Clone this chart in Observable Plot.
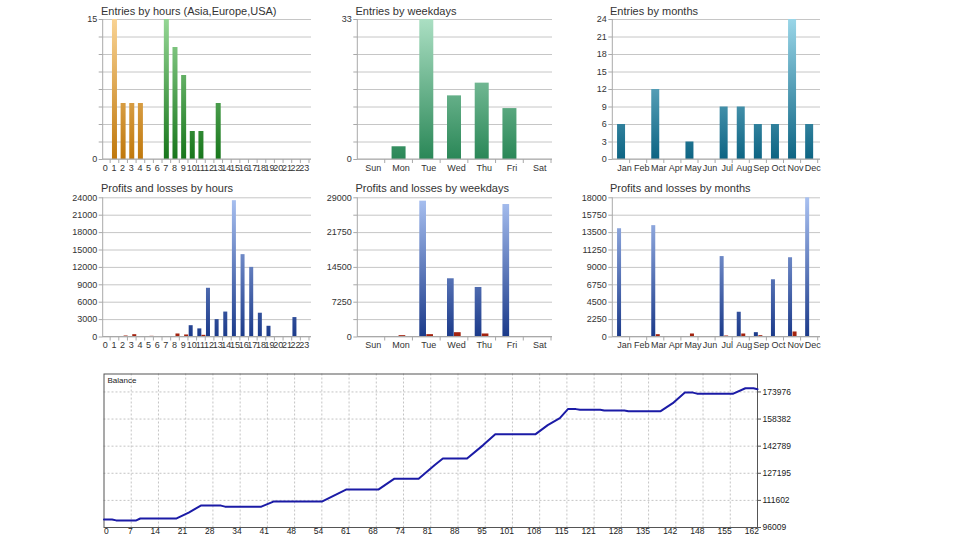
<!DOCTYPE html>
<html><head><meta charset="utf-8">
<script src="https://cdn.jsdelivr.net/npm/d3@7"></script>
<script src="https://cdn.jsdelivr.net/npm/@observablehq/plot@0.6"></script>
<style>
body{margin:0;background:#fff;}
#root{position:relative;width:960px;height:540px;overflow:hidden;font-family:"Liberation Sans",Arial,sans-serif;background:#fff;}
.panel{position:absolute;}
.title{position:absolute;font-size:11px;color:#333;white-space:nowrap;line-height:14px;}
</style></head><body><div id="root"></div>
<script>
// ---------- data ----------
const hourLabels = ["0","1","2","3","4","5","6","7","8","9","10","11","12","13","14","15","16","17","18","19","20","21","22","23"];
const hourSessions = ["Asia","Asia","Asia","Asia","Asia","Asia","Asia","Europe","Europe","Europe","Europe","Europe","Europe","Europe","Europe","USA","USA","USA","USA","USA","USA","USA","USA","USA"];
const hourEntries = [0,15,6,6,6,0,0,15,12,9,3,3,0,6,0,0,0,0,0,0,0,0,0,0];
const hourProfits = [0,0,0,0,0,0,0,0,0,0,1950,1400,8400,3000,4300,23500,14200,12000,4100,1850,0,0,3350,0];
const hourLosses  = [0,0,170,400,0,115,0,60,520,350,0,290,0,0,0,0,0,0,0,0,0,0,0,0];

const weekdays = ["Sun","Mon","Tue","Wed","Thu","Fri","Sat"];
const weekdayEntries = [0,3,33,15,18,12,0];
const weekdayProfits = [0,0,28300,12130,10320,27600,0];
const weekdayLosses  = [0,280,490,900,630,0,0];

const months = ["Jan","Feb","Mar","Apr","May","Jun","Jul","Aug","Sep","Oct","Nov","Dec"];
const monthEntries = [6,0,12,0,3,0,9,9,6,6,24,6];
const monthProfits = [14000,0,14400,0,0,0,10400,3200,560,7400,10250,18000];
const monthLosses  = [0,0,300,0,390,0,130,390,170,0,650,0];

const entriesHoursMax = 15,  entriesHoursLabels = [0,15];
const entriesWeekMax = 33,   entriesWeekLabels = [0,33];
const entriesMonthMax = 24,  entriesMonthLabels = [0,3,6,9,12,15,18,21,24];
const plHoursMax = 24000,    plHoursLabels = [0,3000,6000,9000,12000,15000,18000,21000,24000];
const plWeekMax = 29000,     plWeekLabels = [0,7250,14500,21750,29000];
const plMonthMax = 18000,    plMonthLabels = [0,2250,4500,6750,9000,11250,13500,15750,18000];

const balanceTrades = [0,2,3,8,9,18,21,24,29,30,39,42,54,60,68,72,78,82,84,90,94,97,107,110,113,115,117,118,123,124,129,130,138,141,144,146,147,156,159,161,162];
const balanceValues = [100600,100600,100100,100100,101200,101200,104600,108600,108600,108000,108000,110900,110900,117800,117800,124100,124100,132000,135700,135700,143400,149700,149700,154900,158900,164100,164100,163700,163700,163300,163300,162900,162900,167500,173600,173600,173000,173000,176100,176100,175500];
const balanceYTicks = [96009,111602,127195,142789,158382,173976];
const balanceXLabels = ["0","7","14","21","28","34","41","48","54","61","68","74","81","88","95","101","108","115","121","128","135","142","148","155","162"];
const balanceXMax = 162;

// ---------- tables ----------
const hourTable = hourLabels.map((h,i)=>({k:h, session:hourSessions[i], entries:hourEntries[i], profit:hourProfits[i], loss:hourLosses[i]}));
const weekTable = weekdays.map((d,i)=>({k:d, entries:weekdayEntries[i], profit:weekdayProfits[i], loss:weekdayLosses[i]}));
const monthTable = months.map((m,i)=>({k:m, entries:monthEntries[i], profit:monthProfits[i], loss:monthLosses[i]}));
const balance = balanceTrades.map((t,i)=>({t, v:balanceValues[i]}));

const root = document.getElementById("root");
const FONT = "'Liberation Sans', Arial, sans-serif";

function addGrad(svg, id, c1, c2, y1, y2){
  let defs = d3.select(svg).select("defs");
  if (defs.empty()) defs = d3.select(svg).insert("defs", ":first-child");
  const g = defs.append("linearGradient").attr("id", id).attr("gradientUnits","userSpaceOnUse")
    .attr("x1",0).attr("x2",0).attr("y1",y1).attr("y2",y2);
  g.append("stop").attr("offset",0).attr("stop-color",c1);
  g.append("stop").attr("offset",1).attr("stop-color",c2);
}

function title(text, x, y){
  const d = document.createElement("div");
  d.className = "title"; d.textContent = text;
  d.style.left = x + "px"; d.style.top = y + "px";
  root.appendChild(d);
}

function panel(cfg){
  const {left, top, width, height, mT, mB, axisX0, axisX1, band, domain, yMax, yLabels, marks, grads, labelDx, labelPad} = cfg;
  const n = domain.length;
  const bw = (band[1]-band[0])/n;
  const grid = d3.range(9).map(k => yMax*k/8);
  const mL = axisX0 - left, mR = left + width - axisX1;
  const axisLines = (index, scales, values, dims) => {
    const g = d3.create("svg:g").attr("stroke","#a9a9a9").attr("stroke-width",1);
    const y0 = dims.height - dims.marginBottom;
    g.append("line").attr("x1",dims.marginLeft).attr("x2",dims.marginLeft).attr("y1",dims.marginTop).attr("y2",y0+0.5);
    g.append("line").attr("x1",dims.marginLeft).attr("x2",dims.width-dims.marginRight).attr("y1",y0).attr("y2",y0);
    for (let k=1;k<=n;k++){
      const bx = band[0]-left + k*bw;
      g.append("line").attr("x1",bx).attr("x2",bx).attr("y1",y0).attr("y2",y0+4);
    }
    return g.node();
  };
  const svg = Plot.plot({
    width, height, marginLeft:mL, marginRight:mR, marginTop:mT, marginBottom:mB,
    style:{background:"transparent", fontFamily:FONT, fontSize:"9px", color:"#333", overflow:"visible"},
    x:{type:"band", domain, range:[band[0]-left, band[1]-left], padding:0, round:false, label:null},
    y:{domain:[0,yMax], label:null},
    marks:[
      Plot.gridY(grid, {stroke:"#c6c6c6", strokeOpacity:1}),
      Plot.axisY(grid, {tickSize:4, tickPadding:2, stroke:"#a9a9a9", fill:"#333", label:null,
        tickFormat: d => yLabels.includes(d) ? String(d) : ""}),
      ...marks(bw),
      axisLines,
      Plot.axisX(domain, {tickSize:0, tickPadding:labelPad, dx:labelDx, fill:"#333", label:null})
    ]
  });
  grads.forEach(([gid,c1,c2]) => addGrad(svg, gid, c1, c2, mT, height-mB));
  svg.classList.add("panel");
  svg.style.position = "absolute";
  svg.style.left = left + "px"; svg.style.top = top + "px";
  root.appendChild(svg);
}

// ---------- top row: entries ----------
panel({left:60, top:0, width:260, height:180, mT:19, mB:21, axisX0:102.7, axisX1:311, band:[101.5,309],
  domain:hourLabels, yMax:entriesHoursMax, yLabels:entriesHoursLabels, labelDx:-1, labelPad:5.5,
  grads:[["gOrange","#f9d394","#c0780c"],["gGreen","#95d695","#17761b"],["gUsa","#a7bff0","#1d3c8c"]],
  marks: bw => {
    const ins = (bw-5)/2;
    return [
      Plot.barY(hourTable.filter(d=>d.session==="Asia"), {x:"k", y:"entries", fill:"url(#gOrange)", insetLeft:ins, insetRight:ins}),
      Plot.barY(hourTable.filter(d=>d.session==="Europe"), {x:"k", y:"entries", fill:"url(#gGreen)", insetLeft:ins, insetRight:ins}),
      Plot.barY(hourTable.filter(d=>d.session==="USA"), {x:"k", y:"entries", fill:"url(#gUsa)", insetLeft:ins, insetRight:ins})
    ];
  }});
panel({left:315, top:0, width:245, height:180, mT:19, mB:21, axisX0:357.3, axisX1:552, band:[357,551],
  domain:weekdays, yMax:entriesWeekMax, yLabels:entriesWeekLabels, labelDx:2, labelPad:5.5,
  grads:[["gWeek","#abdfc3","#2a8757"]],
  marks: bw => [Plot.barY(weekTable, {x:"k", y:"entries", fill:"url(#gWeek)", insetLeft:(bw-14)/2, insetRight:(bw-14)/2})]});
panel({left:570, top:0, width:260, height:180, mT:19, mB:21, axisX0:612.3, axisX1:820, band:[612.5,817.7],
  domain:months, yMax:entriesMonthMax, yLabels:entriesMonthLabels, labelDx:3, labelPad:5.5,
  grads:[["gMonth","#9ad6e8","#0d6483"]],
  marks: bw => [Plot.barY(monthTable, {x:"k", y:"entries", fill:"url(#gMonth)", insetLeft:(bw-8)/2, insetRight:(bw-8)/2})]});

// ---------- middle row: profits and losses ----------
function plMarks(table, gBlue, gRed, b0, b1, r0, r1){
  return bw => [
    Plot.barY(table, {x:"k", y:"profit", fill:`url(#${gBlue})`, insetLeft:bw/2+b0, insetRight:bw/2-b1}),
    Plot.barY(table, {x:"k", y:"loss", fill:`url(#${gRed})`, insetLeft:bw/2+r0, insetRight:bw/2-r1})
  ];
}
panel({left:60, top:180, width:260, height:175, mT:17.3, mB:18.5, axisX0:102.7, axisX1:311, band:[101.5,309],
  domain:hourLabels, yMax:plHoursMax, yLabels:plHoursLabels, labelDx:-1, labelPad:4.5,
  grads:[["gBlue1","#a9c1f1","#1b3a8a"],["gRed1","#e8734f","#a2220f"]],
  marks: plMarks(hourTable,"gBlue1","gRed1",-3.6,0.4,0.5,4.5)});
panel({left:315, top:180, width:245, height:175, mT:17.3, mB:18.5, axisX0:357.3, axisX1:552, band:[357,551],
  domain:weekdays, yMax:plWeekMax, yLabels:plWeekLabels, labelDx:2, labelPad:4.5,
  grads:[["gBlue2","#a9c1f1","#1b3a8a"],["gRed2","#e8734f","#a2220f"]],
  marks: plMarks(weekTable,"gBlue2","gRed2",-7,-0.3,0,6.7)});
panel({left:570, top:180, width:260, height:175, mT:17.3, mB:18.5, axisX0:612.3, axisX1:820, band:[612.5,817.7],
  domain:months, yMax:plMonthMax, yLabels:plMonthLabels, labelDx:3, labelPad:4.5,
  grads:[["gBlue3","#a9c1f1","#1b3a8a"],["gRed3","#e8734f","#a2220f"]],
  marks: plMarks(monthTable,"gBlue3","gRed3",-4,0,0.5,4.5)});

title("Entries by hours (Asia,Europe,USA)", 101, 4);
title("Entries by weekdays", 355.5, 4);
title("Entries by months", 610, 4);
title("Profits and losses by hours", 101, 181);
title("Profits and losses by weekdays", 355.5, 181);
title("Profits and losses by months", 610, 181);

// ---------- balance ----------
{
  const tickIdx = balanceXLabels.map((_,k)=>k);
  const tickPos = k => k*balanceXMax/(balanceXLabels.length-1);
  const svg = Plot.plot({
    width:960, height:180, marginLeft:103.5, marginRight:203, marginTop:13.5, marginBottom:13,
    style:{background:"transparent", fontFamily:FONT, fontSize:"8.5px", color:"#222", overflow:"visible"},
    x:{domain:[0,balanceXMax], axis:null, label:null},
    y:{domain:[96009,184300], label:null},
    marks:[
      Plot.gridX(tickIdx.slice(1,-1).map(tickPos), {stroke:"#c4c4c4", strokeOpacity:1, strokeDasharray:"2,2"}),
      Plot.gridY(balanceYTicks.slice(1), {stroke:"#c4c4c4", strokeOpacity:1, strokeDasharray:"2,2"}),
      Plot.frame({stroke:"#555"}),
      Plot.line(balance, {x:"t", y:"v", stroke:"#1b1ba6", strokeWidth:2}),
      Plot.axisY(balanceYTicks, {anchor:"right", tickSize:3, tickPadding:2, stroke:"#555", fill:"#222", tickFormat:d=>String(d), label:null}),
      Plot.text(tickIdx.slice(1), {x:tickPos, text:k=>balanceXLabels[k], frameAnchor:"bottom", textAnchor:"end", dx:1.5, dy:6, fill:"#222"}),
      Plot.text(tickIdx.slice(0,1), {x:tickPos, text:k=>balanceXLabels[k], frameAnchor:"bottom", textAnchor:"start", dx:0, dy:6, fill:"#222"}),
      Plot.text(["Balance"], {frameAnchor:"top-left", dx:3.5, dy:3, fill:"#222", fontSize:8})
    ]
  });
  svg.style.position = "absolute"; svg.style.left = "0px"; svg.style.top = "360px";
  root.appendChild(svg);
}
</script>
</body></html>
